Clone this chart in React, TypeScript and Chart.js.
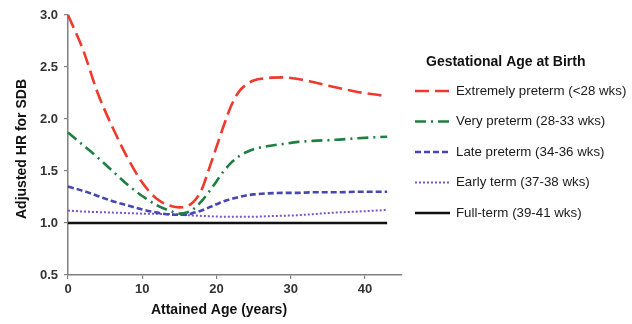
import React, { useEffect, useRef } from "react";
import { Chart, registerables } from "chart.js";

Chart.register(...registerables);

const ages = [0, 2, 4, 6, 8, 10, 12, 14, 15, 16, 17, 18, 19, 20, 21, 22, 23, 24, 25, 27, 29, 31, 33, 36, 39, 43];
const extremelyPreterm = [3.0, 2.67, 2.25, 1.92, 1.63, 1.39, 1.23, 1.16, 1.15, 1.16, 1.21, 1.32, 1.52, 1.73, 1.94, 2.13, 2.26, 2.33, 2.37, 2.395, 2.4, 2.385, 2.355, 2.305, 2.26, 2.22];
const veryPreterm = [1.87, 1.75, 1.63, 1.5, 1.37, 1.26, 1.17, 1.11, 1.09, 1.1, 1.14, 1.21, 1.3, 1.4, 1.5, 1.58, 1.64, 1.68, 1.71, 1.74, 1.76, 1.78, 1.79, 1.8, 1.815, 1.83];
const latePreterm = [1.35, 1.31, 1.26, 1.21, 1.17, 1.13, 1.1, 1.08, 1.08, 1.08, 1.1, 1.12, 1.15, 1.18, 1.21, 1.23, 1.25, 1.265, 1.275, 1.285, 1.29, 1.29, 1.295, 1.295, 1.3, 1.3];
const earlyTerm = [1.12, 1.11, 1.105, 1.1, 1.095, 1.09, 1.088, 1.085, 1.08, 1.075, 1.072, 1.068, 1.065, 1.062, 1.06, 1.06, 1.06, 1.06, 1.06, 1.065, 1.07, 1.075, 1.085, 1.1, 1.11, 1.125];
const fullTerm = [1.0, 1.0, 1.0, 1.0, 1.0, 1.0, 1.0, 1.0, 1.0, 1.0, 1.0, 1.0, 1.0, 1.0, 1.0, 1.0, 1.0, 1.0, 1.0, 1.0, 1.0, 1.0, 1.0, 1.0, 1.0, 1.0];

const seriesLabels = [
  "Extremely preterm (<28 wks)",
  "Very preterm (28-33 wks)",
  "Late preterm (34-36 wks)",
  "Early term (37-38 wks)",
  "Full-term (39-41 wks)",
];
const legendTitle = "Gestational Age at Birth";
const xTitle = "Attained Age (years)";
const yTitle = "Adjusted HR for SDB";
const xTicks = [0, 10, 20, 30, 40];
const yTicks = [0.5, 1.0, 1.5, 2.0, 2.5, 3.0];

const FONT = "'Liberation Sans', Arial, Helvetica, sans-serif";

const styles = [
  { color: "#ee3a2c", width: 2.6, dash: [14, 6] },
  { color: "#1e8040", width: 2.6, dash: [11, 5, 2, 5] },
  { color: "#4646b4", width: 2.6, dash: [6, 3] },
  { color: "#7a55c8", width: 2, dash: [2, 2] },
  { color: "#111111", width: 2.6, dash: [] as number[] },
];

const allSeries = [extremelyPreterm, veryPreterm, latePreterm, earlyTerm, fullTerm];

const overlayPlugin = {
  id: "overlay",
  afterDraw(chart: any) {
    const ctx = chart.ctx;
    ctx.save();
    // axis titles
    ctx.fillStyle = "#111";
    ctx.font = `bold 14px ${FONT}`;
    ctx.textAlign = "center";
    ctx.textBaseline = "middle";
    ctx.fillText(xTitle, 219, 310);
    ctx.save();
    ctx.translate(22, 149);
    ctx.rotate(-Math.PI / 2);
    ctx.fillText(yTitle, 0, 0);
    ctx.restore();

    // legend
    ctx.textAlign = "left";
    ctx.font = `bold 14px ${FONT}`;
    ctx.fillText(legendTitle, 426, 62);
    ctx.font = `13.3px ${FONT}`;
    chart.data.datasets.forEach((ds: any, i: number) => {
      const y = 91 + i * 30.5;
      ctx.save();
      ctx.strokeStyle = ds.borderColor;
      ctx.lineWidth = ds.borderWidth;
      ctx.setLineDash(ds.borderDash || []);
      ctx.beginPath();
      ctx.moveTo(415, y);
      ctx.lineTo(450, y);
      ctx.stroke();
      ctx.restore();
      ctx.fillStyle = "#1a1a1a";
      ctx.fillText(ds.label, 456, y);
    });
    ctx.restore();
  },
};

export default function App() {
  const ref = useRef<HTMLCanvasElement | null>(null);
  useEffect(() => {
    if (!ref.current) return;
    const datasets = allSeries.map((vals, i) => ({
      label: seriesLabels[i],
      data: ages.map((a, j) => ({ x: a, y: vals[j] })),
      borderColor: styles[i].color,
      backgroundColor: styles[i].color,
      borderWidth: styles[i].width,
      borderDash: styles[i].dash,
      pointRadius: 0,
      fill: false,
      cubicInterpolationMode: "monotone" as const,
      clip: 6,
    }));
    const chart = new Chart(ref.current, {
      type: "line",
      data: { datasets },
      options: {
        animation: false,
        responsive: false,
        devicePixelRatio: 1,
        layout: { padding: { left: 0, top: 15, right: 230, bottom: 0 } },
        plugins: { legend: { display: false }, tooltip: { enabled: false } },
        scales: {
          x: {
            type: "linear",
            min: 0,
            max: 45,
            afterBuildTicks: (s: any) => {
              s.ticks = xTicks.map((v) => ({ value: v }));
            },
            afterFit: (s: any) => {
              s.height = 49;
            },
            ticks: {
              color: "#333",
              font: { family: FONT, size: 13, weight: "bold" },
              padding: 3,
              maxRotation: 0,
            },
            grid: { drawOnChartArea: false, tickLength: 4, color: "#808080", lineWidth: 1.2 },
            border: { color: "#808080", width: 1.5 },
          },
          y: {
            type: "linear",
            min: 0.5,
            max: 3.0,
            afterBuildTicks: (s: any) => {
              s.ticks = yTicks.map((v) => ({ value: v }));
            },
            afterFit: (s: any) => {
              s.width = 68;
            },
            ticks: {
              color: "#333",
              font: { family: FONT, size: 13, weight: "bold" },
              padding: 6,
              callback: (v: any) => Number(v).toFixed(1),
            },
            grid: { drawOnChartArea: false, tickLength: 4, color: "#808080", lineWidth: 1.2 },
            border: { color: "#808080", width: 1.5 },
          },
        },
      },
      plugins: [overlayPlugin],
    });
    return () => chart.destroy();
  }, []);
  return (
    <div style={{ position: "fixed", left: 0, top: 0, width: 632, height: 324, background: "#fff" }}>
      <canvas ref={ref} width={632} height={324} />
    </div>
  );
}
